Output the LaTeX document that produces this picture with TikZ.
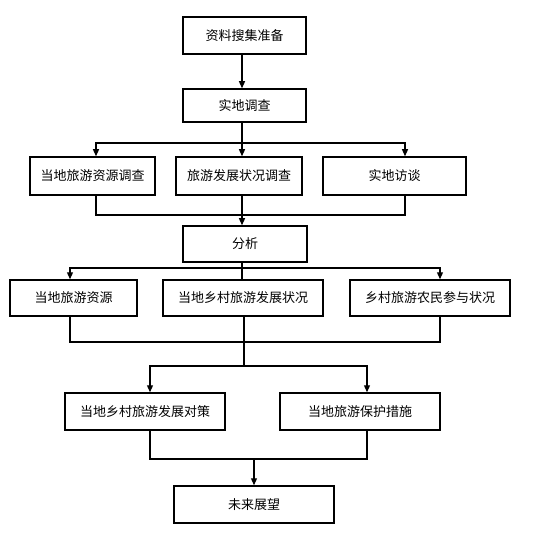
\documentclass[tikz,border=0pt]{standalone}
\usepackage{fontspec}
\setmainfont{Noto Sans CJK SC}
\usetikzlibrary{arrows.meta}
\tikzstyle{stagebox}=[draw,line width=1.5pt,inner sep=0pt,font=\fontsize{13}{15}\selectfont]
\tikzstyle{edge} = [draw,line width=1.2pt,-{Triangle[length=7pt,width=6pt]}]
\tikzstyle{joint} = [draw,line width=1.2pt]

\begin{document}
\begin{tikzpicture}[x=1pt,y=-1pt]
    \useasboundingbox (0,0) rectangle (540,537);
    % First we draw the boxes
    \foreach \pos/\name/\w/\h/\txt in {{(244.5,35.5)/prep/123/37/资料搜集准备},
                            {(244.5,105.5)/field/123/33/实地调查},
                            {(92.5,176)/resA/125/38/当地旅游资源调查},
                            {(239,176)/devA/126/38/旅游发展状况调查},
                            {(394.5,176)/talk/143/38/实地访谈},
                            {(245,244)/anal/124/36/分析},
                            {(73.5,298)/resB/127/36/当地旅游资源},
                            {(243,298)/devB/160/36/当地乡村旅游发展状况},
                            {(430,298)/farm/160/36/乡村旅游农民参与状况},
                            {(145,411.5)/plan/160/37/当地乡村旅游发展对策},
                            {(360,411.5)/prot/160/37/当地旅游保护措施},
                            {(254,504.5)/future/160/37/未来展望}}
        \node[stagebox, minimum width=\w pt, minimum height=\h pt] (\name) at \pos {\txt};
    % Joints of the connectors
    \coordinate (j1) at (242,143);
    \coordinate (j2) at (242,215);
    \coordinate (j3) at (242,268);
    \coordinate (j4) at (244,342);
    \coordinate (j5) at (244,366);
    \coordinate (j6) at (254,459);
    % Connect the boxes
    \path[edge] (prep.south -| j1) -- (field.north -| j1);
    \path[joint] (field.south -| j1) -- (j1);
    \path[edge] (j1) -| ([xshift=3.5pt]resA.north);
    \path[edge] (j1) -- (j1 |- devA.north);
    \path[edge] (j1) -| ([xshift=10.5pt]talk.north);
    \path[joint] ([xshift=3.5pt]resA.south) |- (j2) -| ([xshift=10.5pt]talk.south);
    \path[joint] (devA.south -| j2) -- (j2);
    \path[edge] (j2) -- (j2 |- anal.north);
    \path[joint] (anal.south -| j3) -- (j3);
    \path[edge] (j3) -| ([xshift=-3.5pt]resB.north);
    \path[edge] (j3) -| ([xshift=10pt]farm.north);
    \path[joint] (j3) -- (j3 |- devB.north);
    \path[joint] ([xshift=-3.5pt]resB.south) |- (j4) -| ([xshift=10pt]farm.south);
    \path[joint] (devB.south -| j4) -- (j4) -- (j5);
    \path[edge] (j5) -| ([xshift=5pt]plan.north);
    \path[edge] (j5) -| ([xshift=7pt]prot.north);
    \path[joint] ([xshift=5pt]plan.south) |- (j6) -| ([xshift=7pt]prot.south);
    \path[edge] (j6) -- (future);
\end{tikzpicture}
\end{document}
